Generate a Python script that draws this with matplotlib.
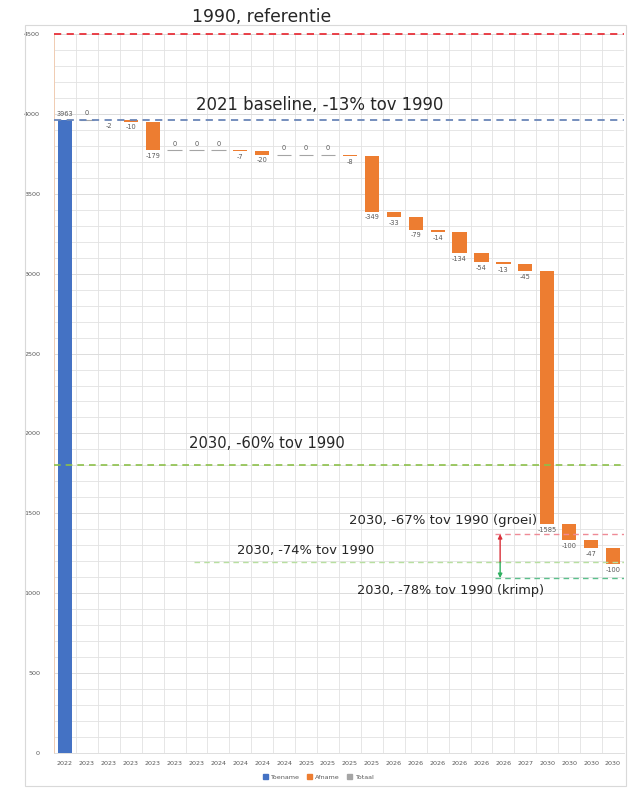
import matplotlib
matplotlib.use('Agg')
import matplotlib.pyplot as plt
from matplotlib.patches import Patch, Rectangle
import numpy as np

# waterfall data
jaren = ["2022", "2023", "2023", "2023", "2023", "2023", "2023", "2024", "2024",
         "2024", "2024", "2025", "2025", "2025", "2025", "2026", "2026", "2026",
         "2026", "2026", "2026", "2027", "2030", "2030", "2030", "2030"]
waarden = [3963, 0, -2, -10, -179, 0, 0, 0, -7, -20, 0, 0, 0, -8, -349, -33,
           -79, -14, -134, -54, -13, -45, -1585, -100, -47, -100]

# referentielijnen
ref_1990 = 4500
baseline_2021 = 3963
doel_60 = 1800
doel_67 = 1370
doel_74 = 1195
doel_78 = 1095

BLAUW = '#4472c4'
ORANJE = '#ed7d31'
GRIJS = '#a5a5a5'
LABEL = '#595959'

fig = plt.figure(figsize=(6.29, 7.88), dpi=100)
ax = fig.add_axes([54 / 629, 1 - 753 / 788, 570 / 629, 719 / 788])

x = np.arange(len(waarden))
w = 0.65
eind = np.cumsum(waarden)
start = eind - np.array(waarden)

for i, v in enumerate(waarden):
    if i == 0:
        ax.bar(i, v, width=w, color=BLAUW, zorder=3)
        ax.annotate(f'{v}', (i, v), xytext=(0, 2), textcoords='offset points',
                    ha='center', va='bottom', fontsize=4.8, color=LABEL)
    elif v == 0:
        ax.hlines(eind[i], i - w / 2, i + w / 2, color=GRIJS, lw=0.8, zorder=3)
        ax.annotate('0', (i, eind[i]), xytext=(0, 2.5), textcoords='offset points',
                    ha='center', va='bottom', fontsize=4.8, color=LABEL)
    else:
        ax.bar(i, v, bottom=start[i], width=w, color=ORANJE, zorder=3)
        ax.annotate(f'{v}', (i, eind[i]), xytext=(0, -2), textcoords='offset points',
                    ha='center', va='top', fontsize=4.8, color=LABEL)

ax.set_xlim(-0.5, len(waarden) - 0.5)
ax.set_ylim(0, 4500)
ax.set_xticks(x)
ax.set_xticklabels(jaren, fontsize=4.6, color=LABEL)
ax.set_yticks(np.arange(0, 4501, 500))
ax.set_yticklabels([str(t) for t in range(0, 4501, 500)], fontsize=4.6, color=LABEL)
ax.set_yticks(np.arange(0, 4501, 100), minor=True)
ax.set_xticks(np.arange(-0.5, len(waarden), 1), minor=True)
ax.tick_params(axis='both', which='both', length=0)
ax.tick_params(axis='x', pad=6)
ax.tick_params(axis='y', pad=10)
ax.grid(which='major', axis='y', color='#dcdcdc', lw=0.7, zorder=0)
ax.grid(which='minor', axis='both', color='#e2e2e2', lw=0.6, zorder=0)
ax.grid(which='major', axis='x', visible=False)
for s in ['top', 'right']:
    ax.spines[s].set_visible(False)
ax.spines['left'].set_color('#f3c9ab')
ax.spines['left'].set_linewidth(0.6)
ax.spines['bottom'].set_color('#d9d9d9')
ax.spines['bottom'].set_linewidth(0.6)

# doellijnen
ax.axhline(ref_1990, color='#e8313a', ls=(0, (4, 3)), lw=1.3, clip_on=False, zorder=4)
ax.axhline(baseline_2021, color='#6a86b8', ls=(0, (4, 3)), lw=1.3, zorder=4)
ax.axhline(doel_60, color='#8cc04a', ls=(0, (4, 3)), lw=1.2, zorder=4)
ax.hlines(doel_67, 19.6, 25.5, color='#ef8a96', ls=(0, (4, 3)), lw=1.0, zorder=4)
ax.hlines(doel_74, 5.9, 25.5, color='#b8e0a0', ls=(0, (4, 3)), lw=1.0, zorder=4)
ax.hlines(doel_78, 19.6, 25.5, color='#5cbf8c', ls=(0, (4, 3)), lw=1.0, zorder=4)

ax.annotate('', xy=(19.85, doel_67), xytext=(19.85, doel_74),
            arrowprops=dict(arrowstyle='-|>', color='#d9303a', lw=1.0,
                            mutation_scale=6, shrinkA=0, shrinkB=0), zorder=5)
ax.annotate('', xy=(19.85, doel_78), xytext=(19.85, doel_74),
            arrowprops=dict(arrowstyle='-|>', color='#2fb060', lw=1.0,
                            mutation_scale=6, shrinkA=0, shrinkB=0), zorder=5)

tekst = dict(ha='center', va='center', color='#262626', zorder=6)
ax.text(8.99, 4606, '1990, referentie', fontsize=12.3, **tekst)
ax.text(11.64, 4056, '2021 baseline, -13% tov 1990', fontsize=11.9, **tekst)
ax.text(9.22, 1940, '2030, -60% tov 1990', fontsize=10.6, **tekst)
ax.text(17.25, 1458, '2030, -67% tov 1990 (groei)', fontsize=9.5, **tekst)
ax.text(11.0, 1270, '2030, -74% tov 1990', fontsize=9.4, **tekst)
ax.text(17.57, 1020, '2030, -78% tov 1990 (krimp)', fontsize=9.3, **tekst)

# legenda
handles = [Patch(color=BLAUW), Patch(color=ORANJE), Patch(color=GRIJS)]
fig.legend(handles, ['Toename', 'Afname', 'Totaal'], loc='center',
           bbox_to_anchor=(318 / 629, 1 - 777 / 788), ncol=3, frameon=False,
           fontsize=4.6, handlelength=0.8, handleheight=0.8, columnspacing=1.2,
           handletextpad=0.4, labelcolor=LABEL)

# kader van het grafiekgebied
fig.patches.append(Rectangle((25 / 629, 2 / 788), 601 / 629, 761 / 788,
                             transform=fig.transFigure, fill=False,
                             edgecolor='#d9d9d9', lw=0.8))

fig.savefig('out.png', dpi=100, facecolor='white')
